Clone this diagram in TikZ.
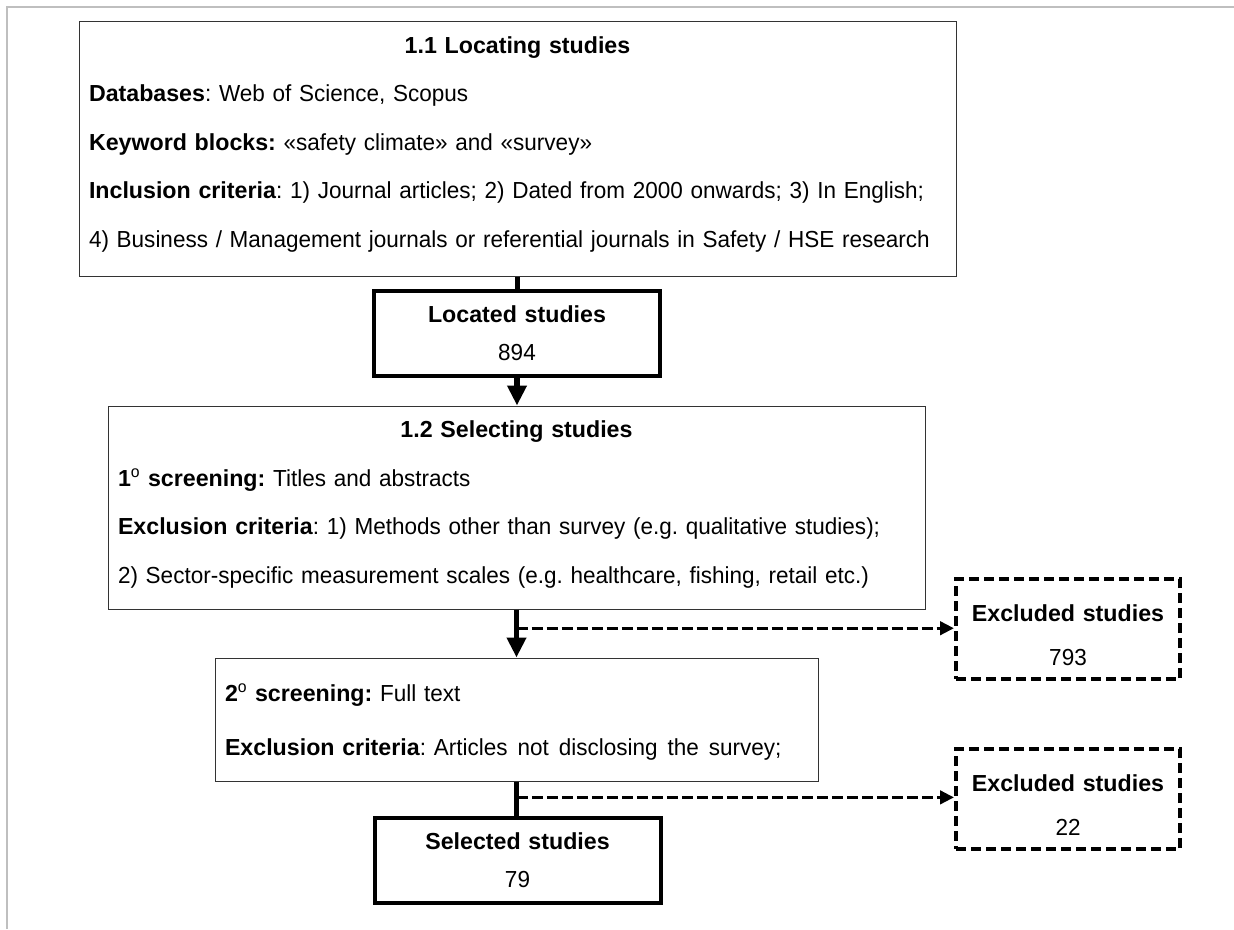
\documentclass[tikz,border=0pt]{standalone}
\usepackage{fontspec}
\setmainfont{Liberation Sans}[UprightFeatures={FakeStretch=0.97}]
\frenchspacing
\usetikzlibrary{arrows.meta,calc}
\tikzset{
	stage/.style={draw=black!80,line width=0.75pt,inner xsep=7.5pt,inner ysep=0pt,text width=#1,font={\fontsize{17.4pt}{36.4pt}\selectfont}},
	tally/.style={draw,line width=3pt,align=center,text width=214.5pt,minimum height=63.75pt,inner sep=0pt,font={\fontsize{17.4pt}{28.5pt}\selectfont}},
	excluded/.style={draw,line width=3pt,dash pattern=on 7.5pt off 3.75pt,align=center,text width=168pt,minimum height=75pt,inner sep=0pt,font={\fontsize{17.4pt}{33pt}\selectfont}},
	joint/.style={line width=4pt},
	flow/.style={joint,-{Triangle[length=15pt,width=14pt]}},
	drop/.style={line width=2.5pt,dash pattern=on 8.25pt off 3pt,-{Triangle[length=10.5pt,width=10pt]}},
	pageframe/.style={draw=black!25,line width=1.5pt}
}
\begin{document}
\begin{tikzpicture}[x=0.75pt,y=-0.75pt]
	\useasboundingbox (0,0) rectangle (1234,929);
	\draw[pageframe] (7,929) -- (7,7) -- (1234,7);
	\node[stage=642.75pt,minimum height=191.25pt] (locate) at (517.5,148.5) {{\centering\textbf{1.1 Locating studies}\par}
		\mbox{\textbf{Databases}: Web of Science, Scopus}\par
		\mbox{\textbf{Keyword blocks:} «safety climate» and «survey»}\par
		\mbox{\textbf{Inclusion criteria}: 1) Journal articles; 2) Dated from 2000 onwards; 3) In English;}\par
		\mbox{4) Business / Management journals or referential journals in Safety / HSE research}\rule[-9.75pt]{0pt}{9.75pt}};
	\node[tally] (located) at (517,333.5) {\textbf{Located studies}\\894};
	\node[stage=597.75pt,minimum height=152.25pt] (select) at (516.5,507.5) {{\centering\textbf{1.2 Selecting studies}\par}
		\mbox{\textbf{1}\textsuperscript{o} \textbf{screening:} Titles and abstracts}\par
		\mbox{\textbf{Exclusion criteria}: 1) Methods other than survey (e.g. qualitative studies);}\par
		\mbox{2) Sector-specific measurement scales (e.g. healthcare, fishing, retail etc.)}\rule[-8.25pt]{0pt}{8.25pt}};
	\node[stage=437.25pt,minimum height=92.25pt,font={\fontsize{17.4pt}{40.5pt}\selectfont}] (screen) at (516.5,719.5) {\rule{0pt}{16.5pt}\textbf{2}\textsuperscript{o} \textbf{screening:} Full text\par
		\mbox{\textbf{Exclusion criteria}: Articles\hspace{7.5pt}not\hspace{7.5pt}disclosing\hspace{7.5pt}the\hspace{7.5pt}survey;}};
	\node[tally] (selected) at (517.5,860.5) {\textbf{Selected studies}\\79};
	\node[excluded] (drop1) at (1068,629) {\rule{0pt}{21.75pt}\textbf{Excluded studies}\\793};
	\node[excluded] (drop2) at (1068,799) {\rule{0pt}{21.75pt}\textbf{Excluded studies}\\22};
	\coordinate (cut1) at ($(select.south)!0.39!(screen.north)$);
	\coordinate (cut2) at ($(screen.south)!0.46!(selected.north)$);
	\draw[joint] (locate.south) -- (locate.south |- located.north);
	\draw[flow] (located.south) -- (located.south |- select.north);
	\draw[flow] (select.south) -- (select.south |- screen.north);
	\draw[joint] (screen.south) -- (screen.south |- selected.north);
	\draw[drop] (cut1) -- (cut1 -| drop1.west);
	\draw[drop] (cut2) -- (cut2 -| drop2.west);
\end{tikzpicture}
\end{document}
